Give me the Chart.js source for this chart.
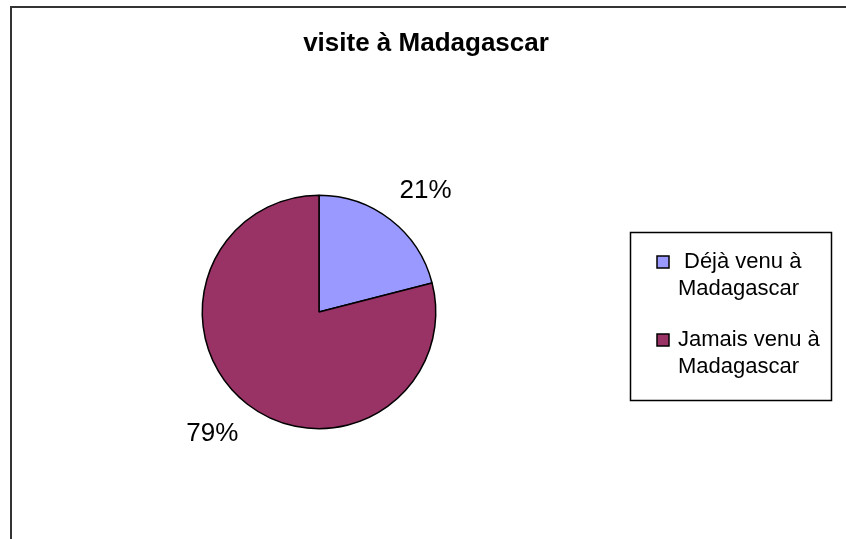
<!DOCTYPE html>
<html>
<head>
<meta charset="utf-8">
<script src="https://cdn.jsdelivr.net/npm/chart.js@4"></script>
<style>
  html, body { margin: 0; padding: 0; background: #fff; }
  canvas { display: block; }
</style>
</head>
<body>
<canvas id="grafico" width="846" height="539"></canvas>
<script>
//DATOS
const titulo = 'visite à Madagascar'
const categorias = [['Déjà venu à', 'Madagascar'], ['Jamais venu à', 'Madagascar']]
const valores = [21, 79]
const colores = ['#9999FF', '#993366']

const fuente = '"Liberation Sans", Arial, sans-serif'

// marco, titulo, etiquetas y leyenda
const decoracion = {
    id: 'decoracion',
    beforeDraw(chart) {
        const ctx = chart.ctx
        ctx.save()
        ctx.fillStyle = '#fff'
        ctx.fillRect(0, 0, chart.width, chart.height)
        ctx.strokeStyle = '#333'
        ctx.lineWidth = 2
        ctx.strokeRect(11, 7, 1000, 1000)
        ctx.restore()
    },
    afterDraw(chart) {
        const ctx = chart.ctx
        ctx.save()
        ctx.fillStyle = '#000'
        ctx.textAlign = 'center'
        ctx.textBaseline = 'middle'
        ctx.font = 'bold 26px ' + fuente
        ctx.fillText(titulo, 426, 44)

        // porcentajes
        const total = valores.reduce((a, b) => a + b, 0)
        const meta = chart.getDatasetMeta(0)
        ctx.font = '26px ' + fuente
        meta.data.forEach((arc, i) => {
            const mid = (arc.startAngle + arc.endAngle) / 2 + 0.06
            const r = arc.outerRadius + 45
            const x = arc.x + Math.cos(mid) * r
            const y = arc.y + Math.sin(mid) * r
            ctx.fillText(Math.round(valores[i] / total * 100) + '%', x, y)
        })

        // leyenda
        ctx.strokeStyle = '#000'
        ctx.lineWidth = 1.5
        ctx.strokeRect(630.5, 232.5, 201, 168)
        ctx.font = '22px ' + fuente
        ctx.textAlign = 'left'
        const filas = [262, 340]
        categorias.forEach((lineas, i) => {
            const y0 = filas[i]
            ctx.fillStyle = colores[i]
            ctx.fillRect(657, y0 - 6, 12, 12)
            ctx.strokeStyle = '#000'
            ctx.lineWidth = 1.5
            ctx.strokeRect(657, y0 - 6, 12, 12)
            ctx.fillStyle = '#000'
            lineas.forEach((t, j) => {
                const dx = (i === 0 && j === 0) ? 684 : 678
                ctx.fillText(t, dx, y0 + j * 27)
            })
        })
        ctx.restore()
    }
}

const config = {
    type: 'pie',
    data: {
        labels: categorias.map(c => c.join(' ')),
        datasets: [{
            data: valores,
            backgroundColor: colores,
            borderColor: '#000',
            borderWidth: 1.5
        }]
    },
    options: {
        responsive: false,
        animation: false,
        layout: {
            padding: { left: 201.5, right: 409.5, top: 194.5, bottom: 109.5 }
        },
        plugins: {
            legend: { display: false },
            tooltip: { enabled: false },
            title: { display: false }
        }
    },
    plugins: [decoracion]
}

const canvas = document.getElementById('grafico')
const chart = new Chart(canvas.getContext('2d'), config)
</script>
</body>
</html>
